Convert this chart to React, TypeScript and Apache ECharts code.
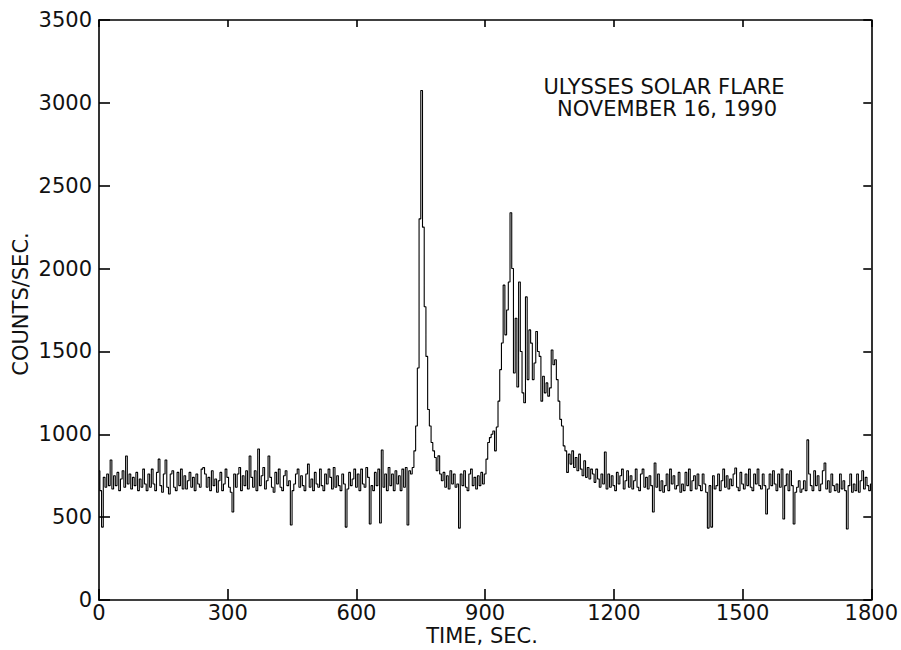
import React, { useEffect, useRef } from "react";
import * as echarts from "echarts";

// Time axis (seconds) and count-rate axis (counts/sec) ticks
const xTickValues = [0, 300, 600, 900, 1200, 1500, 1800];
const yTickValues = [0, 500, 1000, 1500, 2000, 2500, 3000, 3500];

// Bin width of the light curve, in seconds
const binSeconds = 4;

// Counts/sec per 4-second bin, starting at t = 0
const counts: number[] = [
  // 0-36 s
  780, 660, 440, 740, 680, 760, 690, 845, 670, 750,
  // 40-76
  690, 770, 660, 730, 780, 680, 869, 700, 760, 670,
  // 80-116
  740, 690, 770, 660, 730, 680, 790, 700, 660, 760,
  // 120-156
  680, 790, 700, 660, 770, 850, 690, 650, 760, 845,
  // 160-196
  680, 640, 760, 780, 680, 660, 770, 690, 790, 670,
  // 200-236
  750, 670, 720, 770, 680, 740, 660, 760, 700, 680,
  // 240-276
  790, 800, 760, 680, 740, 660, 780, 690, 730, 650,
  // 280-316
  720, 770, 660, 700, 790, 740, 680, 650, 531, 760,
  // 320-356
  680, 760, 800, 660, 750, 690, 780, 670, 869, 740,
  // 360-396
  680, 780, 660, 911, 690, 750, 800, 670, 720, 869,
  // 400-436
  740, 680, 650, 770, 700, 790, 680, 660, 750, 780,
  // 440-476
  690, 720, 453, 660, 700, 760, 790, 680, 750, 690,
  // 480-516
  660, 760, 820, 680, 730, 660, 770, 700, 680, 790,
  // 520-556
  690, 660, 760, 700, 790, 740, 670, 800, 680, 750,
  // 560-596
  690, 660, 760, 700, 440, 670, 770, 690, 730, 790,
  // 600-636
  680, 760, 660, 790, 700, 680, 800, 740, 459, 690,
  // 640-676
  660, 770, 690, 790, 465, 905, 680, 760, 660, 800,
  // 680-716
  690, 760, 660, 780, 700, 750, 660, 790, 680, 800,
  // 720-756 (first impulsive peak)
  453, 780, 760, 800, 900, 1050, 1400, 2300, 3075, 2250,
  // 760-796
  1770, 1470, 1150, 1050, 950, 900, 860, 780, 870, 760,
  // 800-836
  720, 770, 680, 750, 670, 780, 700, 760, 680, 700,
  // 840-876
  434, 760, 690, 780, 680, 660, 760, 790, 690, 740,
  // 880-916
  670, 750, 690, 770, 700, 760, 850, 950, 980, 1000,
  // 920-956 (second, longer flare)
  1020, 900, 1044, 1200, 1390, 1551, 1900, 1600, 1750, 1919,
  // 960-996
  2337, 2000, 1370, 1700, 1285, 1919, 1500, 1250, 1190, 1829,
  // 1000-1036
  1330, 1630, 1550, 1330, 1430, 1620, 1500, 1470, 1200, 1350,
  // 1040-1076
  1250, 1310, 1230, 1280, 1509, 1420, 1450, 1330, 1200, 1090,
  // 1080-1116
  1050, 930, 900, 770, 880, 820, 900, 800, 860, 780,
  // 1120-1156
  880, 790, 750, 840, 740, 800, 730, 790, 760, 710,
  // 1160-1196
  790, 730, 680, 760, 700, 893, 670, 760, 680, 750,
  // 1200-1236
  690, 660, 770, 700, 750, 790, 670, 720, 780, 680,
  // 1240-1276
  750, 670, 720, 790, 680, 660, 760, 790, 680, 740,
  // 1280-1316
  670, 750, 690, 531, 827, 680, 760, 660, 720, 650,
  // 1320-1356
  690, 760, 660, 790, 700, 750, 670, 690, 770, 650,
  // 1360-1396
  700, 660, 770, 690, 790, 660, 720, 750, 670, 760,
  // 1400-1436
  690, 660, 760, 700, 650, 434, 690, 440, 750, 670,
  // 1440-1476
  690, 760, 660, 720, 790, 680, 750, 670, 730, 690,
  // 1480-1516
  760, 797, 680, 660, 770, 700, 670, 760, 690, 790,
  // 1520-1556
  680, 660, 760, 700, 790, 690, 670, 760, 690, 519,
  // 1560-1596
  670, 760, 690, 780, 700, 660, 760, 680, 790, 489,
  // 1600-1636
  690, 760, 660, 780, 690, 459, 650, 680, 720, 650,
  // 1640-1676
  670, 720, 660, 966, 760, 690, 660, 780, 690, 750,
  // 1680-1716
  660, 700, 780, 827, 670, 720, 650, 760, 690, 660,
  // 1720-1756
  700, 650, 760, 670, 720, 660, 428, 690, 760, 650,
  // 1760-1796
  700, 660, 760, 650, 720, 780, 670, 740, 690, 660,
  // 1800
  700,
];

const titleLines = ["ULYSSES SOLAR FLARE", "NOVEMBER 16, 1990"];
const xAxisTitle = "TIME, SEC.";
const yAxisTitle = "COUNTS/SEC.";

export default function App() {
  const ref = useRef<HTMLDivElement>(null);

  useEffect(() => {
    if (!ref.current) return;
    const chart = echarts.init(ref.current, null, { renderer: "svg" });
    const font = "DejaVu Sans";
    const ink = "#111";
    const line = { color: "#000", width: 1.6 };
    const plain = (v: number) => String(v);

    const xMin = xTickValues[0];
    const xMax = xTickValues[xTickValues.length - 1];
    const xInt = xTickValues[1] - xTickValues[0];
    const yMin = yTickValues[0];
    const yMax = yTickValues[yTickValues.length - 1];
    const yInt = yTickValues[1] - yTickValues[0];

    const seriesData = counts.map((v, i) => [i * binSeconds, v]);

    chart.setOption({
      animation: false,
      backgroundColor: "#ffffff",
      grid: { left: 99, right: 28, top: 20, bottom: 50, containLabel: false },
      xAxis: [
        {
          type: "value",
          position: "bottom",
          min: xMin,
          max: xMax,
          interval: xInt,
          axisLine: { show: true, onZero: false, lineStyle: line },
          axisTick: { show: true, inside: true, length: 11, lineStyle: line },
          axisLabel: { show: true, color: ink, fontFamily: font, fontSize: 21, margin: 2, formatter: plain },
          splitLine: { show: false },
        },
        {
          type: "value",
          position: "top",
          min: xMin,
          max: xMax,
          interval: xInt,
          axisLine: { show: true, onZero: false, lineStyle: line },
          axisTick: { show: true, inside: true, length: 7, lineStyle: line },
          axisLabel: { show: false },
          splitLine: { show: false },
        },
      ],
      yAxis: [
        {
          type: "value",
          position: "left",
          min: yMin,
          max: yMax,
          interval: yInt,
          axisLine: { show: true, onZero: false, lineStyle: line },
          axisTick: { show: true, inside: true, length: 11, lineStyle: line },
          axisLabel: { show: true, color: ink, fontFamily: font, fontSize: 21, margin: 7, formatter: plain },
          splitLine: { show: false },
        },
        {
          type: "value",
          position: "right",
          min: yMin,
          max: yMax,
          interval: yInt,
          axisLine: { show: true, onZero: false, lineStyle: line },
          axisTick: { show: true, inside: true, length: 8, lineStyle: line },
          axisLabel: { show: false },
          splitLine: { show: false },
        },
      ],
      series: [
        {
          type: "line",
          xAxisIndex: 0,
          yAxisIndex: 0,
          data: seriesData,
          step: "middle",
          symbol: "none",
          showSymbol: false,
          silent: true,
          lineStyle: { color: "#000", width: 1.1 },
        },
      ],
      graphic: [
        {
          type: "text",
          x: 664,
          y: 87,
          style: {
            text: titleLines[0],
            fontFamily: font,
            fontSize: 21,
            fill: ink,
            align: "center",
            verticalAlign: "middle",
          },
        },
        {
          type: "text",
          x: 667,
          y: 109,
          style: {
            text: titleLines[1],
            fontFamily: font,
            fontSize: 21,
            fill: ink,
            align: "center",
            verticalAlign: "middle",
          },
        },
        {
          type: "text",
          x: 482,
          y: 636,
          style: {
            text: xAxisTitle,
            fontFamily: font,
            fontSize: 21,
            fill: ink,
            align: "center",
            verticalAlign: "middle",
          },
        },
        {
          type: "text",
          x: 21,
          y: 304,
          rotation: Math.PI / 2,
          style: {
            text: yAxisTitle,
            fontFamily: font,
            fontSize: 21,
            fill: ink,
            align: "center",
            verticalAlign: "middle",
          },
        },
      ],
    });

    return () => chart.dispose();
  }, []);

  return (
    <div
      ref={ref}
      style={{ position: "absolute", left: 0, top: 0, width: 901, height: 650 }}
    />
  );
}
